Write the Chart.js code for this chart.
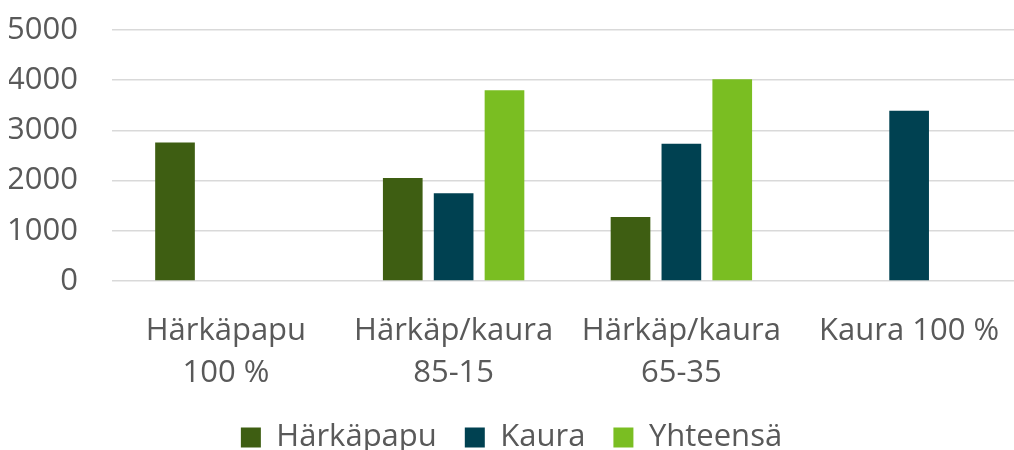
<!DOCTYPE html>
<html>
<head>
<meta charset="utf-8">
<script src="https://cdn.jsdelivr.net/npm/chart.js@4"></script>
<style>
  html, body { margin: 0; padding: 0; background: #fff; }
  #wrap { width: 1014px; height: 450px; }
</style>
</head>
<body>
<div id="wrap"><canvas id="barChart" width="1014" height="450"></canvas></div>
<script>
const categories = [['Härkäpapu', '100 %'], ['Härkäp/kaura', '85-15'], ['Härkäp/kaura', '65-35'], 'Kaura 100 %'];
const harkapapu = [2760, 2050, 1275, null];
const kaura = [null, 1750, 2735, 3390];
const yhteensa = [null, 3800, 4020, null];
const yTicks = [0, 1000, 2000, 3000, 4000, 5000];

document.addEventListener("DOMContentLoaded", function () {
    const ctx = document.getElementById('barChart').getContext("2d");
    const font = { family: "'Open Sans', 'Noto Sans', sans-serif", size: 31, lineHeight: 1.35 };

    // legend: wide gaps between items but not much height
    const legendFit = {
        id: 'legendFit',
        beforeUpdate(chart) {
            if (chart.legend && !chart.legend._patched) {
                const orig = chart.legend.fit;
                chart.legend.fit = function () {
                    orig.call(this);
                    this.height = 56;
                };
                chart.legend._patched = true;
            }
        },
        // plot area in the original runs a little past the right edge
        afterLayout(chart) {
            const x = chart.scales.x;
            x.right += 9;
            x.width += 9;
            x.configure();
            chart.chartArea.right += 9;
            chart.chartArea.width += 9;
        }
    };

    new Chart(ctx, {
        type: 'bar',
        data: {
            labels: categories,
            datasets: [
                { label: 'Härkäpapu', data: harkapapu, backgroundColor: 'rgb(62, 94, 18)' },
                { label: 'Kaura', data: kaura, backgroundColor: 'rgb(0, 65, 81)' },
                { label: 'Yhteensä', data: yhteensa, backgroundColor: 'rgb(122, 190, 34)' }
            ]
        },
        options: {
            responsive: false,
            animation: false,
            barPercentage: 0.78,
            categoryPercentage: 0.67,
            layout: { padding: { top: 0, right: 0, left: 9, bottom: 0 } },
            plugins: {
                tooltip: { enabled: false },
                legend: {
                    position: 'bottom',
                    labels: {
                        font: font,
                        color: '#595959',
                        boxWidth: 20,
                        boxHeight: 20,
                        padding: 28
                    }
                }
            },
            scales: {
                x: {
                    grid: { display: false, drawTicks: false },
                    border: { display: false },
                    ticks: { font: font, color: '#595959', maxRotation: 0, autoSkip: false, padding: 29 },
                    afterFit: function (axis) {
                        axis.height = 113;
                        axis.paddingLeft = 0;
                        axis.paddingRight = 0;
                    }
                },
                y: {
                    min: yTicks[0],
                    max: yTicks[yTicks.length - 1],
                    border: { display: false },
                    grid: { color: '#d9d9d9', lineWidth: 1.5, drawTicks: false },
                    afterBuildTicks: function (axis) {
                        axis.ticks = yTicks.map(v => ({ value: v }));
                    },
                    afterFit: function (axis) {
                        axis.width = 103;
                        axis.paddingTop = 30;
                        axis.paddingBottom = 0;
                    },
                    ticks: { font: font, color: '#595959', padding: 34, autoSkip: false, callback: v => String(v) }
                }
            }
        },
        plugins: [legendFit]
    });
});
</script>
</body>
</html>
